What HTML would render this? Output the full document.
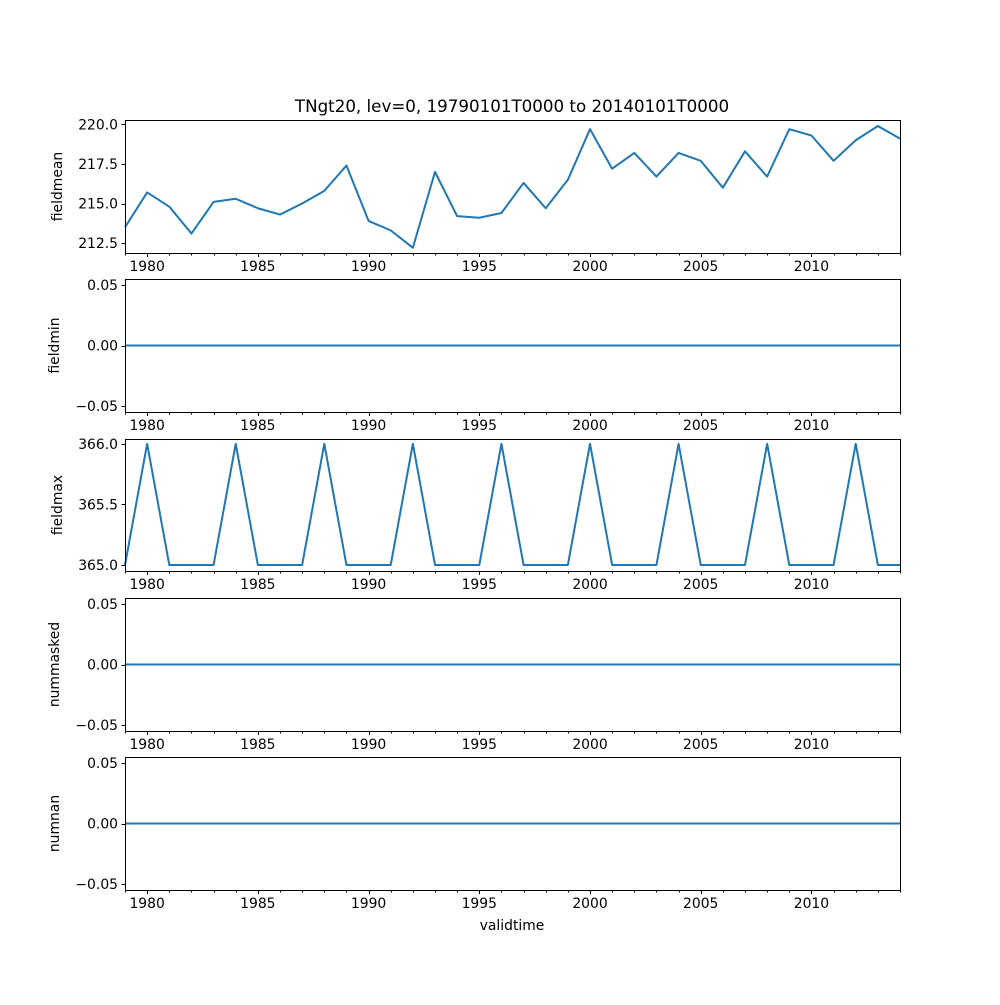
<!DOCTYPE html>
<html><head><meta charset="utf-8"><style>
body{margin:0;background:#fff;}
svg text{font-family:"DejaVu Sans","Liberation Sans",sans-serif;font-size:13.9px;fill:#000;}
</style></head><body>
<svg id="fig" width="1000" height="1000" xmlns="http://www.w3.org/2000/svg">
<rect width="1000" height="1000" fill="#fff"/>
<text x="512" y="112" text-anchor="middle" style="font-size:16.7px">TNgt20, lev=0, 19790101T0000 to 20140101T0000</text>
<text x="512" y="930" text-anchor="middle">validtime</text>
</svg>
<script>
const years = [1979,1980,1981,1982,1983,1984,1985,1986,1987,1988,1989,1990,1991,1992,1993,1994,1995,1996,1997,1998,1999,2000,2001,2002,2003,2004,2005,2006,2007,2008,2009,2010,2011,2012,2013,2014];
const fieldmean = [213.5,215.7,214.8,213.1,215.1,215.3,214.7,214.3,215.0,215.8,217.4,213.9,213.3,212.2,217.0,214.2,214.1,214.4,216.3,214.7,216.5,219.7,217.2,218.2,216.7,218.2,217.7,216.0,218.3,216.7,219.7,219.3,217.7,219.0,219.9,219.1];
const fieldmin = years.map(()=>0);
const fieldmax = [365,366,365,365,365,366,365,365,365,366,365,365,365,366,365,365,365,366,365,365,365,366,365,365,365,366,365,365,365,366,365,365,365,366,365,365];
const nummasked = years.map(()=>0);
const numnan = years.map(()=>0);
const xTicks = [1980,1985,1990,1995,2000,2005,2010];
const ticks1 = [212.5,215.0,217.5,220.0];
const ticks3 = [365.0,365.5,366.0];
const ticksZero = [-0.05,0.00,0.05];

const NS='http://www.w3.org/2000/svg';
const svg=document.getElementById('fig');
const L=125,R=900;
function xs(v){return L+(v-1979)/(2014-1979)*(R-L);}
function mk(tag,attrs,parent){const e=document.createElementNS(NS,tag);for(const k in attrs)e.setAttribute(k,attrs[k]);(parent||svg).appendChild(e);return e;}
function fmt(v,d){return v<0?'\u2212'+Math.abs(v).toFixed(d):v.toFixed(d);}

const panels=[
 {name:'fieldmean',data:fieldmean,top:120,bot:253,lo:211.87,hi:220.28,ticks:ticks1,dec:1,lx:62},
 {name:'fieldmin',data:fieldmin,top:279,bot:412,lo:-0.055,hi:0.055,ticks:ticksZero,dec:2,lx:59},
 {name:'fieldmax',data:fieldmax,top:439,bot:571,lo:364.95,hi:366.04,ticks:ticks3,dec:1,lx:62},
 {name:'nummasked',data:nummasked,top:598,bot:731,lo:-0.055,hi:0.055,ticks:ticksZero,dec:2,lx:59},
 {name:'numnan',data:numnan,top:757,bot:890,lo:-0.055,hi:0.055,ticks:ticksZero,dec:2,lx:59}
];
panels.forEach(p=>{
 const g=mk('g',{});
 
 
 const ys=v=>p.bot-(v-p.lo)/(p.hi-p.lo)*(p.bot-p.top);
 const line=mk('polyline',{points:years.map((y,i)=>xs(y)+','+ys(p.data[i])).join(' '),fill:'none',stroke:'#1f77b4','stroke-width':2,'stroke-linejoin':'round'},g);
 
 
 const fr=mk('rect',{x:L+0.5,y:p.top+0.5,width:R-L,height:p.bot-p.top,fill:'none',stroke:'#000','stroke-width':1},g);
 
 
 for(let y=1979;y<=2014;y++){
  const major=xTicks.includes(y);
  const xx=Math.round(xs(y))+0.5;
  mk('line',{x1:xx,x2:xx,y1:p.bot,y2:p.bot+(major?4:2.5),stroke:'#000','stroke-width':1},g);
 }
 xTicks.forEach(t=>{
  const tx=mk('text',{x:xs(t),y:p.bot+18,'text-anchor':'middle'},g);
  tx.textContent=t;
  
  
 });
 p.ticks.forEach(t=>{
  const yy=Math.round(ys(t))+0.5;
  mk('line',{x1:L-3.5,x2:L,y1:yy,y2:yy,stroke:'#000','stroke-width':1},g);
  const tx=mk('text',{x:L-7,y:ys(t)+5,'text-anchor':'end'},g);
  tx.textContent=fmt(t,p.dec);
  
  
 });
 const cy=(p.top+p.bot)/2;
 const yl=mk('text',{x:p.lx-5,y:cy+5,'text-anchor':'middle',transform:'rotate(-90 '+(p.lx-5)+' '+cy+')'},g);
 yl.textContent=p.name;
 
 
});
</script>
</body></html>
